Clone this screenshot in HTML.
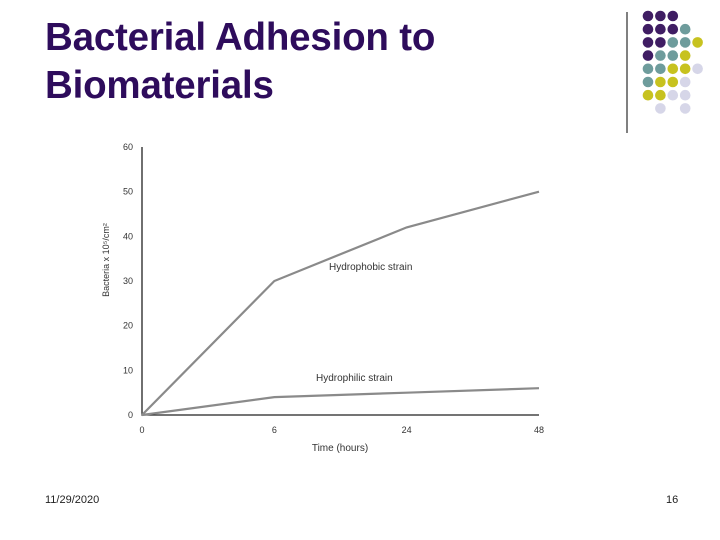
<!DOCTYPE html>
<html><head><meta charset="utf-8"><style>
body{margin:0;background:#fff;}
#page{position:relative;width:720px;height:540px;overflow:hidden;background:#fff;font-family:"Liberation Sans",sans-serif;}
#title{position:absolute;left:45px;top:14px;font-size:38.5px;font-weight:bold;color:#2e0c5c;line-height:48px;margin:0;letter-spacing:-0.2px;}
.foot{position:absolute;top:494px;font-size:11px;color:#222;}
</style></head><body>
<div id="page">
<h1 id="title">Bacterial Adhesion to<br>Biomaterials</h1>
<svg id="deco" width="720" height="140" style="position:absolute;left:0;top:0"></svg>
<svg id="chart" width="720" height="540" style="position:absolute;left:0;top:0"></svg>
<div class="foot" style="left:45px">11/29/2020</div>
<div class="foot" style="left:666px">16</div>
</div>
<script>
const categories=["0","6","24","48"];
const hydrophobic=[0,30,42,50];
const hydrophilic=[0,4,5,6];
const yTicks=[0,10,20,30,40,50,60];
const NS="http://www.w3.org/2000/svg";
function mk(p,t,a){const e=document.createElementNS(NS,t);for(const k in a)e.setAttribute(k,a[k]);p.appendChild(e);return e;}
// decorative dots
const deco=document.getElementById('deco');
const C={P:'#3f1d63',T:'#6e9c9c',Y:'#c7c21f',L:'#d6d6e8'};
const rows=["PPP","PPPT","PPTTY","PTTY","TTYYL","TYYL","YYLL"," L L"];
const vl=mk(deco,'line',{x1:627,y1:12,x2:627,y2:133,stroke:'#000','stroke-width':1});

rows.forEach((r,ri)=>{[...r].forEach((c,ci)=>{if(c===' ')return;
const d=mk(deco,'circle',{cx:648+ci*12.4,cy:16+ri*13.2,r:5.3,fill:C[c]});
});});
// chart
const svg=document.getElementById('chart');
const x0=142,x1=539,yb=415,yt=147;
const xs=i=>x0+i*(x1-x0)/(categories.length-1);
const ys=v=>yb-v*(yb-yt)/60;
const g=mk(svg,'g',{});
const ax=mk(g,'path',{d:`M${x0},${yt} V${yb} H${x1}`,fill:'none',stroke:'#222','stroke-width':1.3});

yTicks.forEach(v=>{const t=mk(g,'text',{x:x0-9,y:ys(v)+3,'text-anchor':'end','font-size':9,fill:'#333'});t.textContent=v;
});
categories.forEach((c,i)=>{const t=mk(g,'text',{x:xs(i),y:yb+18,'text-anchor':'middle','font-size':9,fill:'#333'});t.textContent=c;
});
const xt=mk(g,'text',{x:340,y:451,'text-anchor':'middle','font-size':10,fill:'#333'});xt.textContent='Time (hours)';

const yt2=mk(g,'text',{x:0,y:0,'text-anchor':'middle','font-size':9,fill:'#333',transform:`translate(109,260) rotate(-90)`});
yt2.textContent='Bacteria x 10⁵/cm²';

function line(vals,name){const p=mk(g,'polyline',{points:vals.map((v,i)=>xs(i)+','+ys(v)).join(' '),fill:'none',stroke:'#8a8a8a','stroke-width':2.2});
}
line(hydrophobic,'hydrophobic-line');line(hydrophilic,'hydrophilic-line');
const l1=mk(g,'text',{x:329,y:270,'font-size':10,fill:'#333'});l1.textContent='Hydrophobic strain';

const l2=mk(g,'text',{x:316,y:381,'font-size':10,fill:'#333'});l2.textContent='Hydrophilic strain';

</script>
</body></html>
